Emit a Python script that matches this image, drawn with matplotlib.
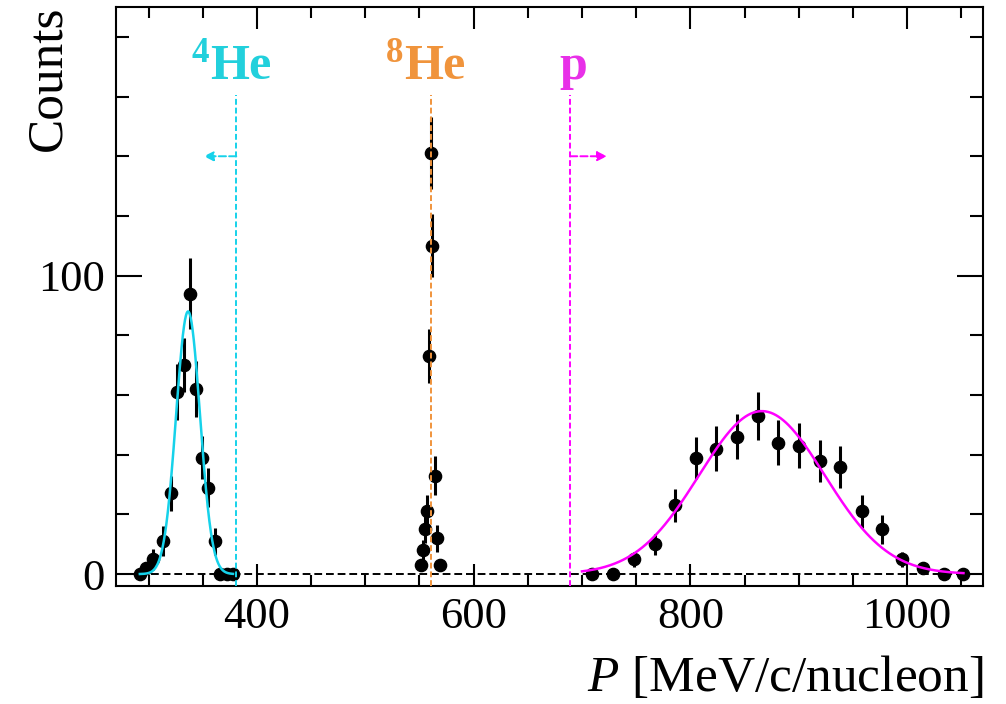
import numpy as np
import matplotlib
matplotlib.use('Agg')
import matplotlib.pyplot as plt

plt.rcParams['font.family'] = ['Liberation Serif', 'DejaVu Serif']
plt.rcParams['mathtext.fontset'] = 'custom'
plt.rcParams['mathtext.rm'] = 'Liberation Serif'
plt.rcParams['mathtext.it'] = 'Liberation Serif:italic'
plt.rcParams['mathtext.bf'] = 'Liberation Serif:bold'

### momentum bins and counts, 4He
he4_p = [292, 298, 304, 313, 321, 326, 333, 338, 344, 349, 355, 361, 366, 372, 378]
he4_n = [0, 2, 5, 11, 27, 61, 70, 94, 62, 39, 29, 11, 0, 0, 0]
he4_err = [0, 2, 3.5, 5, 6, 9.5, 9, 12, 9.3, 7.3, 6.5, 4.5, 0, 0, 0]

### 8He
he8_p = [551, 553, 555, 557, 559, 560.5, 562, 564.5, 566.5, 569]
he8_n = [3, 8, 15, 21, 73, 141, 110, 33, 12, 3]
he8_err = [2, 3.5, 4.5, 5.5, 9, 12, 10.5, 6.5, 4.5, 2]

### protons
p_p = [709, 728.5, 748, 767, 786, 805, 824, 843, 862, 881, 900, 920, 938.5, 958, 977, 995.5, 1015, 1034, 1052]
p_n = [0, 0, 5, 10, 23, 39, 42, 46, 53, 44, 43, 38, 36, 21, 15, 5, 2, 0, 0]
p_err = [0, 0, 2.5, 3.5, 5.5, 7, 7.5, 7.5, 8, 7.5, 7.5, 7, 7, 5.5, 4.8, 2.5, 1.5, 0, 0]

### gaussian fit results (amplitude, mean, sigma, range)
he4_fit = (88, 336.5, 11.0, 292, 378)
p_fit = (54.6, 866, 58.0, 700, 1052)

### PID cuts
he4_cut = 381
he8_cut = 561
p_cut = 689

c_he4 = '#16d2ea'
c_he8 = '#f0943c'
c_p = '#ff00ff'


def gaus(x, a, m, s):
    return a*np.exp(-0.5*((x-m)/s)**2)


fig = plt.figure(figsize=(10.06, 7.04), dpi=100)
ax = fig.add_axes([0.1153, 0.1676, 0.8618, 0.8224])
ax.set_xlim(270, 1070)
ax.set_ylim(-4, 190)

ax.axhline(0, color='black', ls=(0, (4, 2)), lw=1.4, zorder=1)

for fit, col in [(he4_fit, c_he4), (p_fit, c_p)]:
    a, m, s, lo, hi = fit
    xx = np.linspace(lo, hi, 300)
    ax.plot(xx, gaus(xx, a, m, s), color=col, lw=1.8, zorder=4)

for px, n, e in [(he4_p, he4_n, he4_err), (he8_p, he8_n, he8_err), (p_p, p_n, p_err)]:
    ax.errorbar(px, n, yerr=e, fmt='o', color='black', ms=8.8, elinewidth=2.2,
                capsize=0, zorder=3)

### cut lines with direction arrows
ytop = 160.5
for xc, col in [(he4_cut, c_he4), (he8_cut, c_he8), (p_cut, c_p)]:
    ax.plot([xc, xc], [-4, ytop], color=col, ls=(0, (3, 1.5)), lw=1.4, zorder=5)

ax.annotate('', xy=(351, 140), xytext=(he4_cut, 140),
            arrowprops=dict(arrowstyle='-|>', ls='--', color=c_he4, lw=1.4,
                            mutation_scale=14, shrinkA=0, shrinkB=0))
ax.annotate('', xy=(723, 140), xytext=(p_cut, 140),
            arrowprops=dict(arrowstyle='-|>', ls='--', color=c_p, lw=1.4,
                            mutation_scale=14, shrinkA=0, shrinkB=0))

ax.text(377, 166, r'$\mathbf{^{4}He}$', color='#22d0dc', fontsize=36, ha='center', va='baseline')
ax.text(556, 166, r'$\mathbf{^{8}He}$', color=c_he8, fontsize=36, ha='center', va='baseline')
ax.text(692, 166, r'$\mathbf{p}$', color='#e830e8', fontsize=36, ha='center', va='baseline')

### axes, ticks
ax.set_xticks([400, 600, 800, 1000])
ax.set_xticks(np.arange(300, 1070, 50), minor=True)
ax.set_yticks([0, 100])
ax.set_yticks(np.arange(0, 190, 20), minor=True)
ax.tick_params(which='both', direction='in', top=True, right=True, width=1.5,
               labelsize=32, pad=8)
ax.tick_params(axis='x', which='major', length=16)
ax.tick_params(axis='x', which='minor', length=8)
ax.tick_params(axis='y', which='major', length=19)
ax.tick_params(axis='y', which='minor', length=9.5)
for sp in ax.spines.values():
    sp.set_linewidth(1.5)

ax.set_xlabel(r'$P$ [MeV/c/nucleon]', fontsize=37, loc='right')
ax.xaxis.set_label_coords(1.0, -0.12)
ax.set_ylabel('Counts', fontsize=37, loc='top')
ax.yaxis.set_label_coords(-0.052, 1.003)

plt.savefig('out.png', dpi=100)
